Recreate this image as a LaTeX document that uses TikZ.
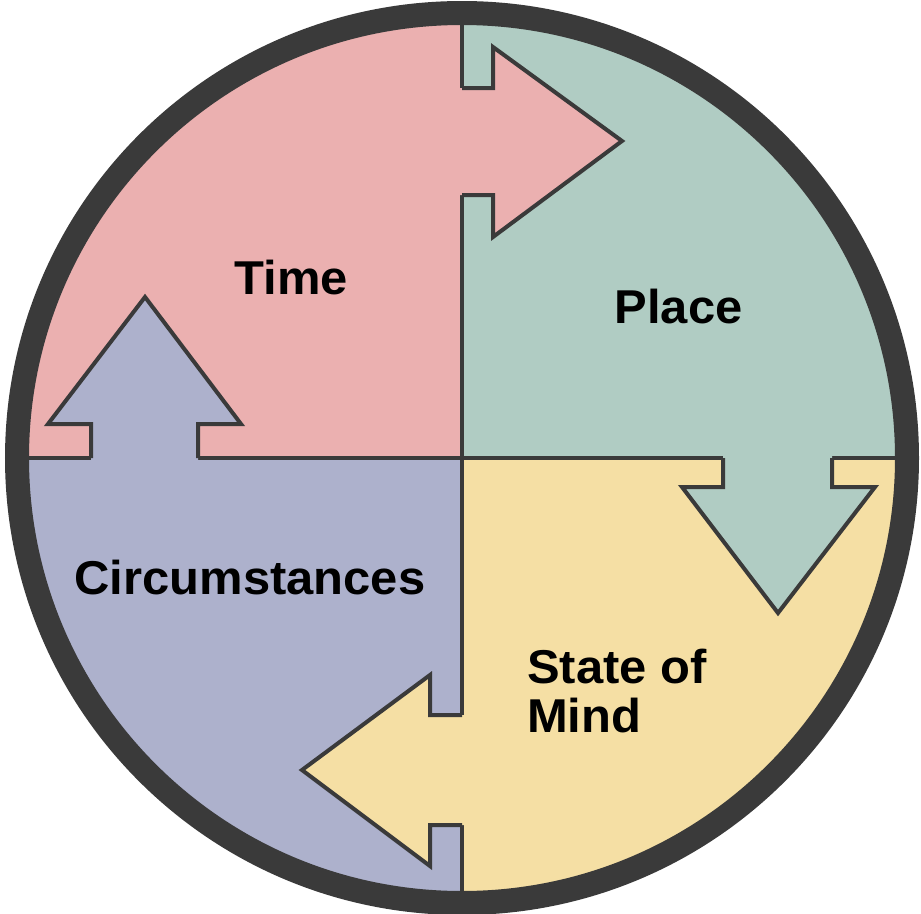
\documentclass[tikz,border=0pt]{standalone}
\usepackage{fontspec}
\setmainfont{Liberation Sans}[FakeStretch=1.03]
\definecolor{ringc}{RGB}{58,58,58}
\definecolor{timec}{RGB}{235,176,176}
\definecolor{placec}{RGB}{176,204,195}
\definecolor{mindc}{RGB}{245,223,164}
\definecolor{circc}{RGB}{173,177,204}
\tikzset{
  lbl/.style={font=\bfseries\fontsize{47.5}{50}\selectfont, inner sep=0pt, text=black},
  outl/.style={draw=ringc, line width=4pt, line join=miter},
  divl/.style={draw=ringc, line width=4pt},
}
\begin{document}
\begin{tikzpicture}[x=1pt,y=-1pt]
\useasboundingbox (0,0) rectangle (921,913);
\coordinate (c) at (462,458);
\begin{scope}
  \clip (c) circle (445pt);
  \fill[timec] (0,0) rectangle (c);
  \fill[placec] (462,0) rectangle (921,458);
  \fill[mindc] (c) rectangle (921,913);
  \fill[circc] (0,458) rectangle (462,913);
  \draw[divl] (462,0) -- (462,913);
  \draw[divl] (0,458) -- (921,458);
\end{scope}
% Time arrow (pink, pointing right)
\fill[timec] (455,88) -- (493,88) -- (493,47) -- (622,141) -- (493,237) -- (493,195) -- (455,195) -- cycle;
\draw[outl] (462,88) -- (493,88) -- (493,47) -- (622,141) -- (493,237) -- (493,195) -- (462,195);
% Place arrow (green, pointing down)
\fill[placec] (723,451) -- (723,487) -- (682,487) -- (778,613) -- (875,487) -- (832,487) -- (832,451) -- cycle;
\draw[outl] (723,458) -- (723,487) -- (682,487) -- (778,613) -- (875,487) -- (832,487) -- (832,458);
% State of Mind arrow (yellow, pointing left)
\fill[mindc] (469,715) -- (430,715) -- (430,675) -- (302,770) -- (430,866) -- (430,825) -- (469,825) -- cycle;
\draw[outl] (462,715) -- (430,715) -- (430,675) -- (302,770) -- (430,866) -- (430,825) -- (462,825);
% Circumstances arrow (blue, pointing up)
\fill[circc] (91,465) -- (91,424) -- (48,424) -- (145,297) -- (241,424) -- (198,424) -- (198,465) -- cycle;
\draw[outl] (91,458) -- (91,424) -- (48,424) -- (145,297) -- (241,424) -- (198,424) -- (198,458);
% outer ring
\draw[ringc, line width=24pt] (c) circle (445pt);
% labels
\node[lbl, anchor=base] (time) at (291.5,294) {Time};
\node[lbl, anchor=base] (place) at (678.5,323) {Place};
\node[lbl, anchor=base] (circ) at (250,594) {Circumstances};
\node[lbl, anchor=base west] (state) at (527,683) {State of};
\node[lbl, anchor=base west] (mind) at (527,732) {Mind};
\end{tikzpicture}
\end{document}
